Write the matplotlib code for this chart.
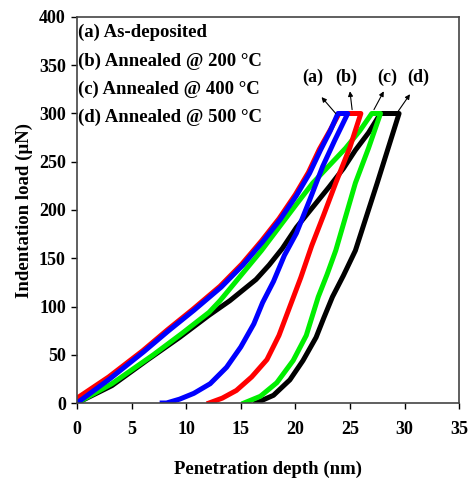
import matplotlib
matplotlib.use("Agg")
import matplotlib.pyplot as plt

plt.rcParams['font.family'] = ['Liberation Serif', 'DejaVu Serif']
plt.rcParams['font.weight'] = 'bold'

# (a) as-deposited - blue
a_load_h = [0, 3.0, 6.1, 8.4, 10.7, 13.2, 15.2, 17.0, 18.6, 20.1, 21.3, 22.3, 23.2, 23.9]
a_load_P = [0, 25, 53, 75, 96, 120, 143, 167, 190, 215, 238, 262, 282, 300]
a_unl_h = [24.8, 23.6, 22.5, 21.3, 20.1, 19.0, 18.0, 17.0, 16.2, 15.0, 13.7, 12.2, 10.7, 9.4, 8.2, 7.8]
a_unl_P = [300, 272, 245, 210, 176, 153, 126, 104, 82, 58, 37, 20, 10, 4, 0, 0]

# (b) annealed 200 C - red
b_load_h = [0, 2.9, 6.0, 8.3, 10.6, 13.1, 15.1, 16.9, 18.5, 20.0, 21.2, 22.2, 23.2, 24.0]
b_load_P = [5, 27, 54, 76, 97, 121, 144, 168, 191, 216, 239, 263, 283, 300]
b_unl_h = [26.0, 25.0, 23.7, 22.6, 21.5, 20.5, 19.5, 18.5, 17.4, 16.0, 14.6, 13.3, 12.1]
b_unl_P = [300, 265, 228, 195, 163, 130, 100, 70, 45, 27, 13, 5, 0]

# (c) annealed 400 C - green
c_load_h = [0, 3.2, 7.0, 9.6, 12.1, 13.1, 15.0, 16.9, 18.5, 20.1, 21.6, 23.1, 24.6, 25.9, 27.0]
c_load_P = [0, 20, 50, 72, 94, 106, 132, 158, 182, 206, 228, 246, 264, 282, 300]
c_unl_h = [27.8, 26.7, 25.5, 24.6, 23.7, 22.9, 22.1, 21.0, 19.8, 18.3, 16.8, 15.3]
c_unl_P = [300, 264, 228, 193, 158, 133, 110, 70, 44, 21, 7, 0]

# (d) annealed 500 C - black
d_load_h = [0, 3.2, 6.5, 9.4, 12.1, 14.0, 16.4, 17.6, 18.8, 20.1, 21.6, 23.1, 24.4, 25.5, 26.7, 27.8]
d_load_P = [0, 18, 45, 68, 91, 106, 128, 143, 160, 182, 203, 224, 243, 262, 280, 300]
d_unl_h = [29.5, 28.5, 27.5, 26.5, 25.5, 24.4, 23.4, 22.6, 21.9, 20.7, 19.5, 18.0, 16.4]
d_unl_P = [300, 264, 228, 193, 158, 132, 110, 88, 68, 44, 24, 8, 0]

legend_lines = ["(a) As-deposited",
                "(b) Annealed @ 200 \u00b0C",
                "(c) Annealed @ 400 \u00b0C",
                "(d) Annealed @ 500 \u00b0C"]
legend_y = [384, 354, 325, 296]
tags = ["(a)", "(b)", "(c)", "(d)"]
tag_x = [21.6, 24.7, 28.4, 31.3]
arrow_tail = [(23.7, 300), (25.2, 304), (27.2, 304), (29.4, 302)]
arrow_head = [(22.4, 317), (25.0, 323), (28.1, 323), (30.5, 320)]

fig = plt.figure(figsize=(4.68, 4.8), dpi=100)
ax = fig.add_axes([0.1645, 0.1604, 0.8165, 0.8042])

curves = [(d_load_h, d_load_P, d_unl_h, d_unl_P, 'black'),
          (c_load_h, c_load_P, c_unl_h, c_unl_P, '#00ee00'),
          (b_load_h, b_load_P, b_unl_h, b_unl_P, 'red'),
          (a_load_h, a_load_P, a_unl_h, a_unl_P, 'blue')]
for lh, lp, uh, up, col in curves:
    ax.plot(lh + uh, lp + up, color=col, lw=3.6, solid_joinstyle='round')

ax.set_xlim(0, 35)
ax.set_ylim(0, 400)
ax.set_xticks(range(0, 36, 5))
ax.set_yticks(range(0, 401, 50))
ax.tick_params(direction='out', length=4, width=1, labelsize=13)
ax.tick_params(axis='x', pad=9)
ax.tick_params(axis='y', pad=4)
for s in ax.spines.values():
    s.set_linewidth(1.2)
    s.set_color('#444444')

ax.set_xlabel("Penetration depth (nm)", fontsize=13.5, fontweight='bold', labelpad=16)
ax.set_ylabel("Indentation load (\u00b5N)", fontsize=13.5, fontweight='bold', labelpad=4)

for i, t in enumerate(legend_lines):
    ax.text(0.1, legend_y[i], t, fontsize=13.5, fontweight='bold', va='center', ha='left')

for i, t in enumerate(tags):
    ax.text(tag_x[i], 337, t, fontsize=13, fontweight='bold', ha='center', va='center')
    ax.annotate("", xy=arrow_head[i], xytext=arrow_tail[i],
                arrowprops=dict(arrowstyle='-|>', color='black', lw=0.8,
                                mutation_scale=7, shrinkA=0, shrinkB=0))

fig.savefig("out.png", dpi=100)
